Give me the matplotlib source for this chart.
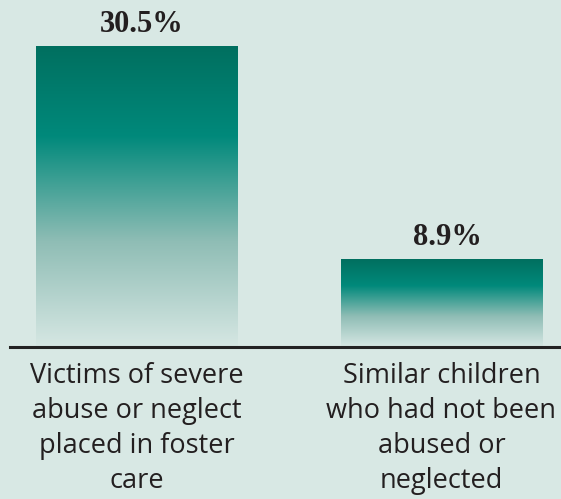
import numpy as np
import matplotlib
matplotlib.use("Agg")
import matplotlib.pyplot as plt
from matplotlib.colors import LinearSegmentedColormap

categories = [
    "Victims of severe\nabuse or neglect\nplaced in foster\ncare",
    "Similar children\nwho had not been\nabused or\nneglected",
]
values = [30.5, 8.9]

BG = "#d8e8e4"
TEXT = "#231f20"

# pale at bottom -> bright teal -> dark teal at top
cmap = LinearSegmentedColormap.from_list(
    "teal_fade",
    [(0.0, "#d6e7e3"), (0.35, "#8fbdb5"), (0.70, "#00897b"), (1.0, "#006f5f")],
)


def main():
    fig = plt.figure(figsize=(5.61, 4.99), dpi=100, facecolor=BG)
    # axes box: baseline at 347 px from top, 30.5 reaches 46 px from top
    ax = fig.add_axes([10 / 561, 152 / 499, 551 / 561, 301 / 499])
    ax.set_facecolor(BG)

    bar_w = 0.66
    grad = np.linspace(0, 1, 256).reshape(-1, 1)
    for i, v in enumerate(values):
        ax.imshow(
            grad,
            cmap=cmap,
            origin="lower",
            aspect="auto",
            extent=(i - bar_w / 2, i + bar_w / 2, 0, v),
            zorder=2,
        )
        ax.annotate(
            f"{v}%",
            xy=(i, v),
            xytext=(4, 10),
            textcoords="offset points",
            ha="center",
            va="baseline",
            fontsize=22,
            fontweight="bold",
            family="Liberation Serif",
            color=TEXT,
            annotation_clip=False,
        )

    ax.set_xlim(-0.415, 1.392)
    ax.set_ylim(0, 30.5)

    for side in ["top", "left", "right"]:
        ax.spines[side].set_visible(False)
    ax.spines["bottom"].set_linewidth(2.2)
    ax.spines["bottom"].set_color("#222222")
    ax.spines["bottom"].set_zorder(3)

    ax.set_yticks([])
    ax.set_xticks(range(len(categories)))
    ax.set_xticklabels(
        categories,
        fontsize=19.5,
        family="Open Sans",
        color=TEXT,
        linespacing=1.33,
    )
    ax.tick_params(axis="x", length=0, pad=11)

    fig.savefig("out.png", dpi=100, facecolor=BG)
    plt.close(fig)


if __name__ == "__main__":
    main()
